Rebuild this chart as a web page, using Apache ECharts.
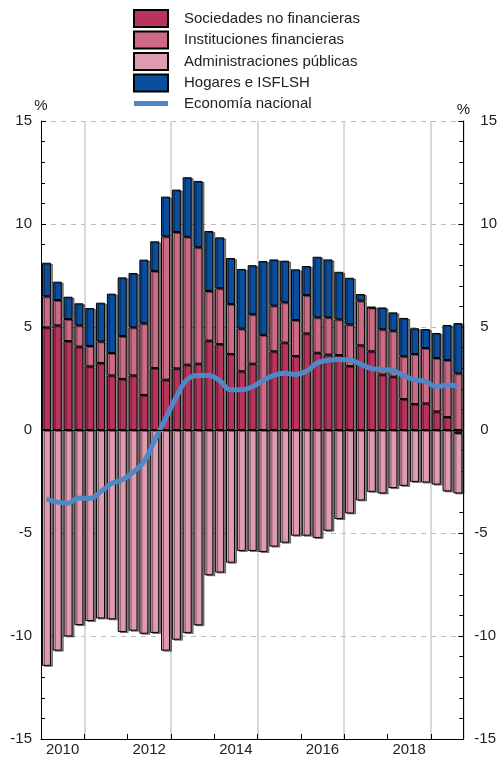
<!DOCTYPE html>
<html>
<head>
<meta charset="utf-8">
<script src="https://cdn.jsdelivr.net/npm/echarts@6/dist/echarts.min.js"></script>
<style>
  html, body { margin: 0; padding: 0; background: #fff; }
  #chart { width: 500px; height: 758px; }
</style>
</head>
<body>
<div id="chart"></div>
<script>
// quarters 2010 T1 .. 2019 T3
const years = [2010, 2011, 2012, 2013, 2014, 2015, 2016, 2017, 2018, 2019];
const categories = [];
years.forEach((y) => {
  [1, 2, 3, 4].forEach((q) => {
    if (y === 2019 && q === 4) { return; }
    categories.push(y + ' T' + q);
  });
});
const yearLabels = ['2010', '2012', '2014', '2016', '2018'];

const sociedades = [4.98, 5.08, 4.32, 4.05, 3.09, 3.25, 2.65, 2.48, 2.65, 1.70,
  3.01, 2.44, 2.99, 3.17, 3.22, 4.34, 4.17, 3.69, 2.85, 3.22,
  0.00, 3.82, 4.24, 3.59, 4.69, 3.75, 3.66, 3.64, 3.10, 4.11,
  3.82, 2.69, 2.59, 1.50, 1.26, 1.29, 0.90, 0.63, -0.14];
const instituciones = [1.51, 1.23, 1.07, 1.03, 0.99, 1.05, 1.09, 2.08, 2.33, 3.48,
  4.71, 6.96, 6.62, 6.21, 5.65, 2.41, 2.71, 2.43, 2.07, 2.40,
  4.62, 2.22, 1.96, 1.75, 1.86, 1.72, 1.81, 1.73, 2.02, 2.17,
  2.13, 2.20, 2.23, 2.08, 2.43, 2.69, 2.60, 2.77, 2.75];
const administraciones = [-11.45, -10.71, -10.02, -9.47, -9.27, -9.15, -9.19, -9.81, -9.74, -9.89,
  -9.85, -10.71, -10.18, -9.85, -9.48, -7.05, -6.92, -6.44, -5.87, -5.87,
  -5.92, -5.66, -5.47, -5.13, -5.13, -5.24, -4.89, -4.32, -4.05, -3.42,
  -3.00, -3.08, -2.82, -2.71, -2.52, -2.55, -2.65, -2.98, -2.94];
const hogares = [1.63, 0.89, 1.08, 1.07, 1.84, 1.88, 2.88, 2.85, 2.64, 3.09,
  1.44, 1.93, 2.06, 2.89, 3.22, 2.91, 2.47, 2.23, 2.90, 2.38,
  3.58, 2.24, 2.02, 2.46, 1.41, 2.94, 2.81, 2.31, 2.27, 0.32,
  0.02, 1.06, 0.89, 1.86, 1.25, 0.92, 1.21, 1.70, 2.44];
const economia = [-3.35, -3.50, -3.55, -3.30, -3.32, -3.00, -2.60, -2.42, -2.05, -1.55,
  -0.50, 0.55, 1.60, 2.45, 2.65, 2.65, 2.40, 1.95, 1.95, 2.10,
  2.40, 2.65, 2.75, 2.70, 2.85, 3.25, 3.38, 3.42, 3.40, 3.20,
  2.99, 2.94, 2.88, 2.64, 2.43, 2.36, 2.10, 2.18, 2.12];

const font = 'Liberation Sans';
const barBase = {
  type: 'bar',
  stack: 'total',
  barWidth: 9,
  emphasis: { disabled: true }
};
function barStyle(color) {
  return {
    color: color,
    borderColor: '#000',
    borderWidth: 1,
    shadowColor: 'rgba(0,0,0,0.45)',
    shadowOffsetX: 2,
    shadowOffsetY: 1,
    shadowBlur: 0
  };
}

// y axis base, used on both sides
function yAxisBase(position) {
  return {
    type: 'value',
    position: position,
    min: -15,
    max: 15,
    interval: 5,
    name: '%',
    nameLocation: 'end',
    nameGap: 4,
    nameTextStyle: { fontFamily: font, fontSize: 15, color: '#222', align: 'center' },
    axisLine: { show: true, lineStyle: { color: '#000', width: 1 } },
    axisTick: { show: true, inside: true, length: 5, lineStyle: { color: '#000' } },
    minorTick: { show: true, splitNumber: 5, length: 4, lineStyle: { color: '#000' } },
    splitLine: { show: false },
    axisLabel: { fontFamily: font, fontSize: 15, color: '#222' }
  };
}

const chart = echarts.init(document.getElementById('chart'));
const leftAxis = yAxisBase('left');
leftAxis.axisLabel.margin = 9;
leftAxis.splitLine = { show: true, lineStyle: { color: '#bbb', type: [5, 5], width: 1 } };
const rightAxis = yAxisBase('right');
rightAxis.axisLabel.margin = 11;
rightAxis.axisLabel.formatter = v => (v >= 0 ? '{p|' + v + '}' : '{n|' + v + '}');
rightAxis.axisLabel.rich = {
  p: { fontFamily: font, fontSize: 15, color: '#222', padding: [0, 0, 0, 6] },
  n: { fontFamily: font, fontSize: 15, color: '#222' }
};

chart.setOption({
  animation: false,
  backgroundColor: '#fff',
  legend: {
    orient: 'vertical',
    left: 133,
    top: 9,
    padding: 0,
    itemWidth: 34,
    itemHeight: 17,
    itemGap: 2.5,
    selectedMode: false,
    textStyle: { fontFamily: font, fontSize: 15, lineHeight: 17, color: '#222', padding: [0, 0, 0, 11] },
    itemStyle: { shadowColor: 'transparent' },
    data: [
      { name: 'Sociedades no financieras', icon: 'rect' },
      { name: 'Instituciones financieras', icon: 'rect' },
      { name: 'Administraciones públicas', icon: 'rect' },
      { name: 'Hogares e ISFLSH', icon: 'rect' },
      { name: 'Economía nacional', icon: 'path://M0,0L34,0L34,5L0,5Z' }
    ]
  },
  grid: { left: 41, right: 32, top: 121, bottom: 19 },
  xAxis: {
    type: 'category',
    data: categories,
    boundaryGap: true,
    axisLine: { onZero: false, lineStyle: { color: '#000', width: 1 } },
    axisTick: { show: true, inside: true, length: 5, interval: i => i % 4 === 0, lineStyle: { color: '#000' } },
    splitLine: { show: true, interval: i => i % 8 === 4, lineStyle: { color: '#ccc', width: 1.5 } },
    axisLabel: {
      interval: i => i % 8 === 2,
      formatter: (v, i) => yearLabels[(i - 2) / 8] || '',
      fontFamily: font,
      fontSize: 15,
      color: '#222',
      margin: 3,
      padding: [0, 11, 0, 0]
    }
  },
  yAxis: [leftAxis, rightAxis],
  series: [
    Object.assign({}, barBase, {
      name: 'Sociedades no financieras', data: sociedades, itemStyle: barStyle('#B8345C')
    }),
    Object.assign({}, barBase, {
      name: 'Instituciones financieras', data: instituciones, itemStyle: barStyle('#CD6A86')
    }),
    Object.assign({}, barBase, {
      name: 'Administraciones públicas', data: administraciones, itemStyle: barStyle('#DF9BAF')
    }),
    Object.assign({}, barBase, {
      name: 'Hogares e ISFLSH',
      data: hogares,
      itemStyle: barStyle('#0C4E9E'),
      markLine: {
        silent: true,
        symbol: 'none',
        label: { show: false },
        lineStyle: { color: '#000', type: 'solid', width: 1.2 },
        data: [{ yAxis: 0 }]
      }
    }),
    {
      name: 'Economía nacional',
      type: 'line',
      data: economia,
      smooth: 0.4,
      symbol: 'none',
      lineStyle: { color: '#4F87C7', width: 5 },
      itemStyle: { color: '#4F87C7' },
      emphasis: { disabled: true }
    }
  ]
});
</script>
</body>
</html>
